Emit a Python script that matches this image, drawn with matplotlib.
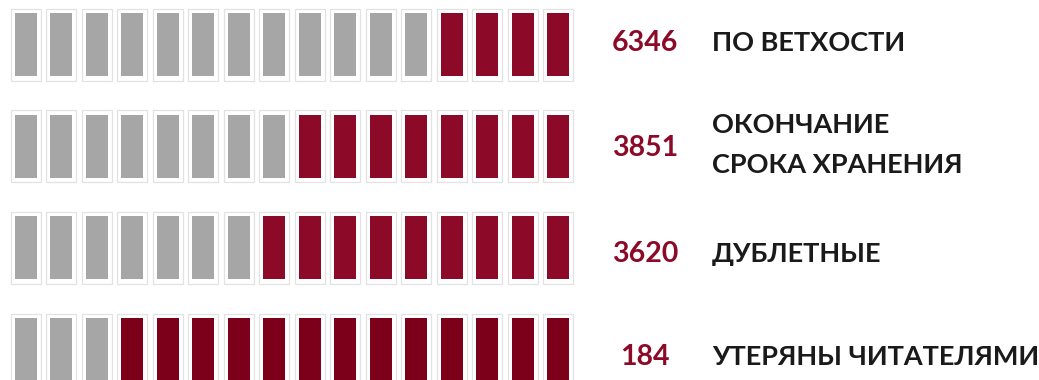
import matplotlib
matplotlib.use("Agg")
import matplotlib.pyplot as plt
import numpy as np

# data
values = [6346, 3851, 3620, 184]
labels = ["ПО ВЕТХОСТИ", "ОКОНЧАНИЕ\nСРОКА ХРАНЕНИЯ", "ДУБЛЕТНЫЕ", "УТЕРЯНЫ ЧИТАТЕЛЯМИ"]
red_count = [4, 8, 9, 13]   # filled icons out of 16
total_icons = 16

gray = "#A6A6A6"
reds = ["#8C0A28", "#8C0A28", "#8C0A28", "#7C0019"]
num_color = "#8B0A28"

W, H = 1039, 380
fig = plt.figure(figsize=(W / 100, H / 100), dpi=100)
ax = fig.add_axes([0, 0, 1, 1])
ax.set_xlim(0, W)
ax.set_ylim(H, 0)
ax.axis("off")

x0, pitch = 25.7, 35.5      # centre of first icon, spacing
y0, row_pitch = 44.5, 101.7  # centre of first row, spacing
inner_w, inner_h = 22, 63
frame_w, frame_h = 30, 72
text_dy = [-1.5, 1.8, 6, 7.4]
label_dy = [-1.5, -1.5, 6, 7.4]

plt.rcParams["font.family"] = ["Lato", "DejaVu Sans"]

idx = np.arange(total_icons)
for r, (val, lab, nred) in enumerate(zip(values, labels, red_count)):
    yc = y0 + r * row_pitch
    xs = x0 + idx * pitch
    cols = [gray] * (total_icons - nred) + [reds[r]] * nred
    # white card with faint border
    ax.bar(xs, frame_h, width=frame_w, bottom=yc - frame_h / 2,
           color="white", edgecolor="#E2E2E2", linewidth=0.9, zorder=1)
    ax.bar(xs, inner_h, width=inner_w, bottom=yc - inner_h / 2,
           color=cols, edgecolor="none", zorder=2)
    ax.text(645, yc + text_dy[r], f"{val}", color=num_color, fontsize=20.5,
            fontweight="bold", ha="center", va="center")
    ax.text(712, yc + label_dy[r], lab, color="#1A1A1A", fontsize=19.5,
            fontweight="bold", ha="left", va="center", linespacing=1.8)

fig.savefig("out.png", dpi=100, facecolor="white")
